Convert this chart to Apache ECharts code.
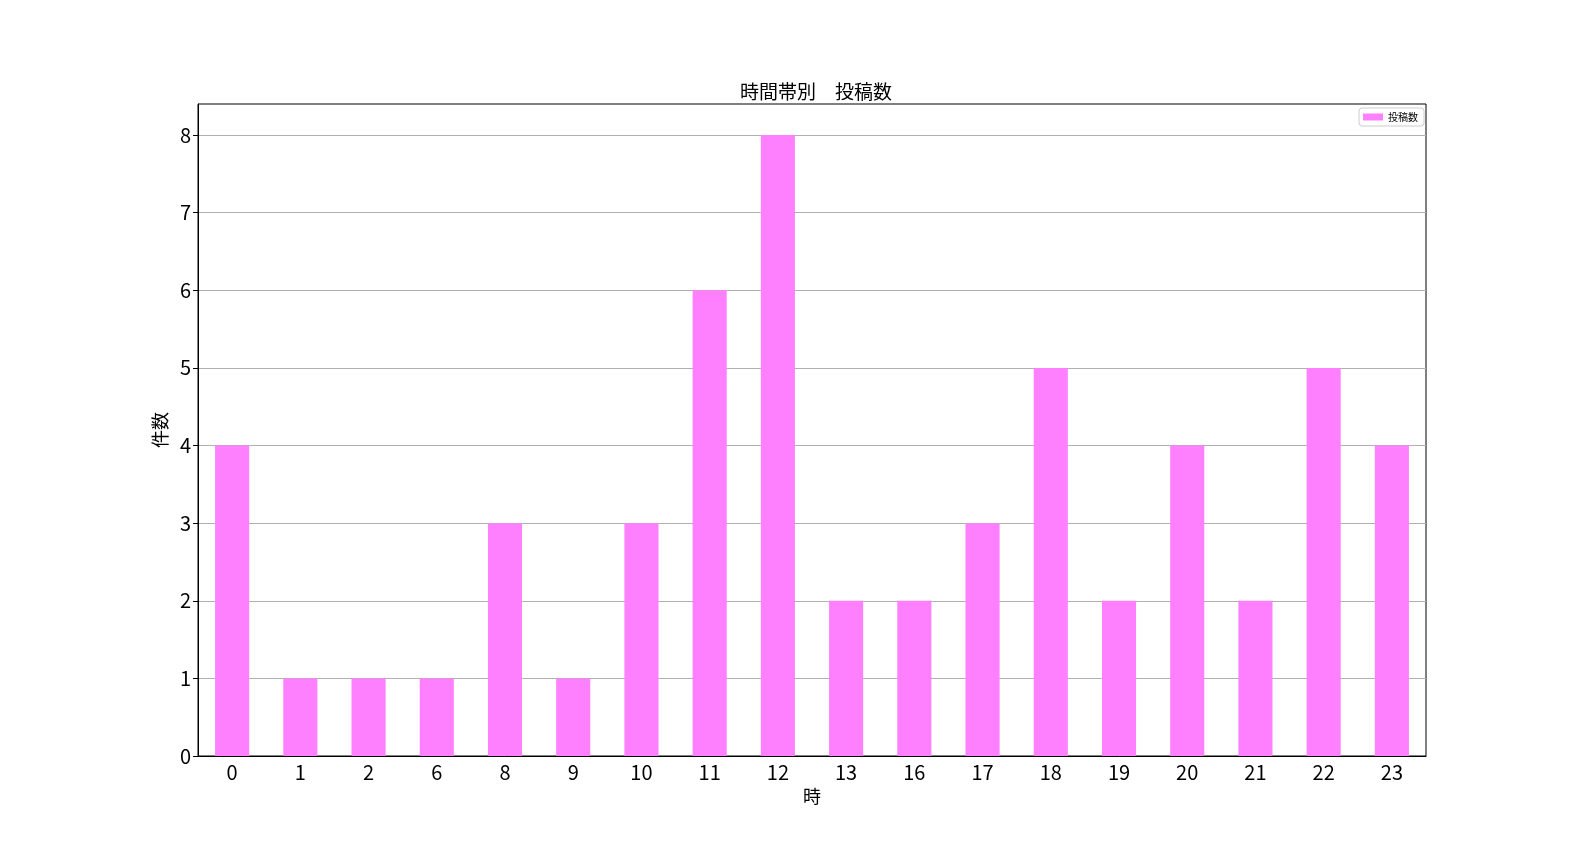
<!DOCTYPE html>
<html>
<head>
<meta charset="utf-8">
<script src="https://cdn.jsdelivr.net/npm/echarts@6/dist/echarts.min.js"></script>
<style>
  html, body { margin: 0; padding: 0; background: #fff; }
  #main { width: 1584px; height: 864px; }
</style>
</head>
<body>
<div id="main"></div>
<script>
// 時間帯 (x categories) and post counts
var hours = ['0', '1', '2', '6', '8', '9', '10', '11', '12', '13', '16', '17', '18', '19', '20', '21', '22', '23'];
var counts = [4, 1, 1, 1, 3, 1, 3, 6, 8, 2, 2, 3, 5, 2, 4, 2, 5, 4];
var yTicks = [0, 1, 2, 3, 4, 5, 6, 7, 8];

var font = '"Noto Sans CJK JP", "DejaVu Sans", sans-serif';
var chart = echarts.init(document.getElementById('main'));

chart.setOption({
  animation: false,
  textStyle: { fontFamily: font, color: '#000' },
  title: {
    text: '時間帯別　投稿数',
    left: 811, textAlign: 'center',
    top: 77,
    textStyle: { fontFamily: font, fontSize: 19, fontWeight: 'normal', color: '#000' }
  },
  legend: {
    data: ['投稿数'],
    right: 160, top: 108,
    orient: 'vertical',
    icon: 'rect',
    itemWidth: 20, itemHeight: 7,
    itemGap: 4,
    padding: [4, 6, 4, 4],
    borderColor: '#cccccc', borderWidth: 1, borderRadius: 3,
    textStyle: { fontFamily: font, fontSize: 10, color: '#000' }
  },
  grid: {
    left: 198, right: 158, top: 104, bottom: 108,
    show: true, borderColor: '#000', borderWidth: 1,
    containLabel: false
  },
  xAxis: {
    type: 'category',
    data: hours,
    name: '時',
    nameLocation: 'middle',
    nameGap: 31,
    nameTextStyle: { fontFamily: font, fontSize: 18, color: '#000' },
    axisLine: { lineStyle: { color: '#000', width: 1 } },
    axisTick: { alignWithLabel: true, length: 5, lineStyle: { color: '#000' } },
    axisLabel: { fontFamily: font, fontSize: 20, color: '#000', margin: 6 },
    splitLine: { show: false }
  },
  yAxis: {
    type: 'value',
    min: 0, max: 8.4, interval: 1,
    name: '件数',
    nameLocation: 'middle',
    nameGap: 24,
    nameTextStyle: { fontFamily: font, fontSize: 18, color: '#000' },
    axisLine: { show: true, lineStyle: { color: '#000', width: 1 } },
    axisTick: { show: true, length: 5, lineStyle: { color: '#000' }, customValues: yTicks },
    axisLabel: { fontFamily: font, fontSize: 20, color: '#000', margin: 7, customValues: yTicks },
    splitLine: { show: true, lineStyle: { color: '#b0b0b0', width: 1 } }
  },
  series: [{
    name: '投稿数',
    type: 'bar',
    data: counts,
    barWidth: '50%',
    itemStyle: { color: '#ff80ff' }
  }]
});
</script>
</body>
</html>
